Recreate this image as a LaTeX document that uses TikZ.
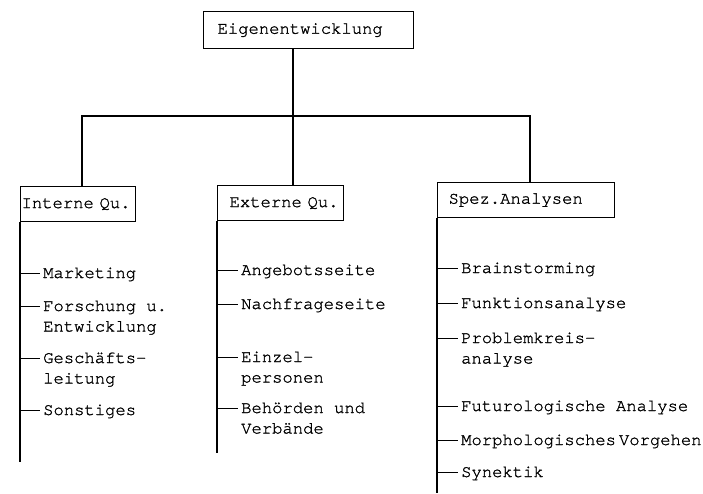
\documentclass[tikz,border=0pt]{standalone}
\usepackage{fontspec}
\setmonofont{TeX Gyre Cursor}[FakeBold=1.2]
\newcommand{\twoline}[2]{\vtop{\hbox{#1}\hbox{#2}}}
\tikzset{
  every node/.style={font=\ttfamily\fontsize{17.2pt}{20.5pt}\selectfont},
  qbox/.style={draw, line width=1.2pt, anchor=north west, inner sep=0pt, align=left},
  item/.style={anchor=base west, inner sep=0pt},
  spine/.style={line width=1.4pt},
  tick/.style={line width=1pt},
  bar/.style={line width=1.8pt}
}
\begin{document}
\begin{tikzpicture}[x=1pt, y=-1pt]
    \useasboundingbox (0,0) rectangle (703,493);
    % top box and the three sources
    \node[qbox, minimum height=37pt, text width=210pt] (root) at (203,11) {\hspace*{14pt}Eigenentwicklung};
    \node[qbox, minimum height=35pt, text width=115pt] (intern) at (20,186) {\hspace*{1pt}Interne Qu.};
    \node[qbox, minimum height=35pt, text width=126pt] (extern) at (217,185) {\hspace*{12pt}Externe Qu.};
    \node[qbox, minimum height=35pt, text width=177pt] (spez) at (437,182) {\hspace*{11pt}Spez.Analysen};
    \coordinate (fork) at (293,116);
    \coordinate (forkL) at (82,116);
    \coordinate (forkR) at (530,116);
    \draw[line width=2.8pt] (root.south -| fork) -- (fork);
    \draw[bar] (forkL |- intern.north) -- (forkL) -- (forkR) -- (forkR |- spez.north);
    \draw[bar] (fork) -- (fork |- extern.north);
    % spines
    \coordinate (internEnd) at (20,462);
    \coordinate (externEnd) at (217,453);
    \coordinate (spezEnd) at (437,493);
    \draw[spine] (intern.south west) -- (internEnd);
    \draw[spine] (extern.south west) -- (externEnd);
    \draw[spine] (spez.south west) -- (spezEnd);
    % items
    \foreach \y/\txt [count=\i] in {273/Marketing, 306/{\twoline{Forschung u.}{Entwicklung}}, 358/{\twoline{Geschäfts-}{leitung}}, 410/Sonstiges}
    {
        \node[item] (int\i) at (43,\y+5) {\txt};
        \coordinate (tint\i) at ([yshift=5pt]int\i.base west);
        \draw[tick] (tint\i -| intern.west) -- ([xshift=-3pt]tint\i);
    }
    \foreach \y/\txt [count=\i] in {270/Angebotsseite, 304/Nachfrageseite, 357/{\twoline{Einzel-}{personen}}, 408/{\twoline{Behörden und}{Verbände}}}
    {
        \node[item] (ext\i) at (241,\y+5) {\txt};
        \coordinate (text\i) at ([yshift=5pt]ext\i.base west);
        \draw[tick] (text\i -| extern.west) -- ([xshift=-3pt]text\i);
    }
    \foreach \y/\txt [count=\i] in {268/Brainstorming, 303/Funktionsanalyse, 338/{\twoline{Problemkreis-}{analyse}}, 406/Futurologische Analyse, 440/Morphologisches\hspace{3pt}Vorgehen, 472/Synektik}
    {
        \node[item] (spz\i) at (461,\y+5) {\txt};
        \coordinate (tspz\i) at ([yshift=5pt]spz\i.base west);
        \draw[tick] (tspz\i -| spez.west) -- ([xshift=-3pt]tspz\i);
    }
\end{tikzpicture}
\end{document}
